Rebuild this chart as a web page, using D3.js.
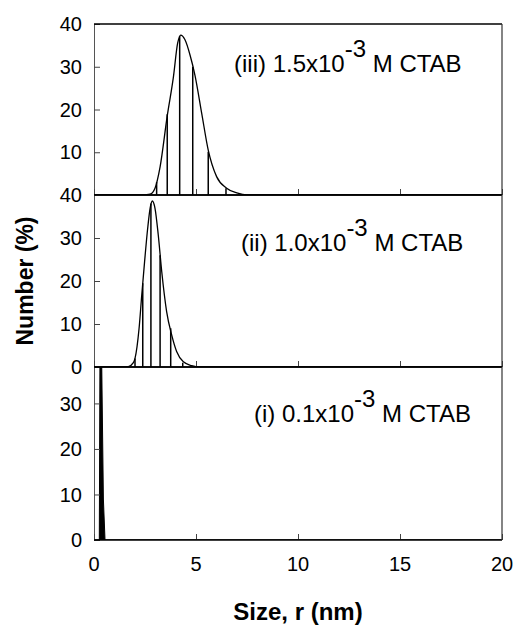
<!DOCTYPE html>
<html>
<head>
<meta charset="utf-8">
<script src="https://cdn.jsdelivr.net/npm/d3@7"></script>
<style>
  body { margin: 0; background: #fff; }
  text { font-family: Arial, "Liberation Sans", sans-serif; fill: #000; }
</style>
</head>
<body>
<div id="chart"></div>
<script>
// data
const xTicks = [0, 5, 10, 15, 20];
const yTicks = [0, 10, 20, 30, 40];

// (iii) 1.5 mM CTAB
const curveIII = [[0, 0], [2.25, 0], [2.75, 0.2], [2.99, 1.6], [3.24, 6.6], [3.59, 18.5], [3.89, 27.5],
    [4.10, 35.5], [4.25, 37.4], [4.46, 36.3], [4.71, 32.7], [4.95, 28.0], [5.28, 19.1], [5.60, 10.5],
    [6.01, 4.3], [6.5, 1.6], [7.0, 0.5], [7.5, 0], [20, 0]];
const barsIII_x = [3.07, 3.59, 4.20, 4.84, 5.60, 6.47];
const barsIII_y = [3.0, 18.9, 37.2, 30.0, 10.1, 1.6];

// (ii) 1.0 mM CTAB
const curveII = [[0, 0], [1.27, 0], [1.68, 0.1], [1.93, 1.0], [2.01, 2.0], [2.21, 9.0], [2.34, 16.7],
    [2.48, 24.5], [2.63, 32.2], [2.75, 36.9], [2.86, 38.6], [2.99, 36.9], [3.15, 30.7], [3.32, 22.2],
    [3.56, 12.9], [3.81, 7.4], [4.05, 3.6], [4.38, 1.2], [4.79, 0.3], [5.2, 0], [20, 0]];
const barsII_x = [2.01, 2.39, 2.79, 3.24, 3.76, 4.35];
const barsII_y = [2.0, 19.5, 38.0, 26.0, 9.0, 1.0];

// (i) 0.1 mM CTAB
const curveI = [[0, 0], [0.26, 0], [0.29, 38], [0.38, 38], [0.46, 9], [0.54, 0], [20, 0]];
const barsI_x = [0.33];
const barsI_y = [38];

const labelsMain = ["(iii) 1.5x10", "(ii) 1.0x10", "(i) 0.1x10"];
const labelSup = "-3";
const labelTail = " M CTAB";

const width = 515, height = 626;
const svg = d3.select("#chart").append("svg")
    .attr("width", width)
    .attr("height", height);

const x = d3.scaleLinear().domain([0, 20]).range([94, 502]);

const panels = [
    {top: 24, bottom: 195, ymax: 40, curve: curveIII, bx: barsIII_x, by: barsIII_y, label: labelsMain[0],
     lx: 234, ly: 72, fill: false, skip: [0]},
    {top: 195, bottom: 367, ymax: 40, curve: curveII, bx: barsII_x, by: barsII_y, label: labelsMain[1],
     lx: 241, ly: 251, fill: false, skip: []},
    {top: 367, bottom: 540, ymax: 38, curve: curveI, bx: barsI_x, by: barsI_y, label: labelsMain[2],
     lx: 254, ly: 422, fill: true, skip: []}
];

panels.forEach((p, i) => {
    const y = d3.scaleLinear().domain([0, p.ymax]).range([p.bottom, p.top]);
    const g = svg.append("g");

    const clipId = "clip" + i;
    svg.append("clipPath").attr("id", clipId)
        .append("rect")
        .attr("x", x(0)).attr("y", p.top)
        .attr("width", x(20) - x(0)).attr("height", p.bottom - p.top);

    const plot = g.append("g").attr("clip-path", `url(#${clipId})`);

    // histogram bars
    plot.selectAll(".bar")
        .data(p.bx.map((d, j) => [d, p.by[j]]))
        .join("line")
        .attr("x1", d => x(d[0])).attr("x2", d => x(d[0]))
        .attr("y1", y(0)).attr("y2", d => y(d[1]))
        .attr("stroke", "#000")
        .attr("stroke-width", 1.5);

    // fitted curve
    if (p.fill) {
        plot.append("path")
            .datum(p.curve)
            .attr("fill", "#000")
            .attr("stroke", "#000")
            .attr("stroke-width", 1)
            .attr("d", d3.area().x(d => x(d[0])).y0(y(0)).y1(d => y(d[1])));
    } else {
        plot.append("path")
            .datum(p.curve)
            .attr("fill", "none")
            .attr("stroke", "#000")
            .attr("stroke-width", 1.3)
            .attr("d", d3.line().curve(d3.curveMonotoneX).x(d => x(d[0])).y(d => y(d[1])));
    }

    // axes, ticks drawn inward
    const yAxis = d3.axisLeft(y).tickValues(yTicks.filter(t => t <= p.ymax))
        .tickSizeInner(-6).tickSizeOuter(0).tickFormat("");
    g.append("g").attr("transform", `translate(${x(0)},0)`).call(yAxis)
        .call(a => a.select(".domain").attr("stroke", "#555"))
        .call(a => a.selectAll(".tick line").attr("stroke", "#444"));

    const xAxis = d3.axisBottom(x).tickValues(xTicks)
        .tickSizeInner(-6).tickSizeOuter(0).tickFormat("");
    g.append("g").attr("transform", `translate(0,${p.bottom})`).call(xAxis)
        .call(a => a.select(".domain").remove())
        .call(a => a.selectAll(".tick line").attr("stroke", "#444"));

    // frame
    g.append("line").attr("x1", x(0)).attr("x2", x(20)).attr("y1", p.top).attr("y2", p.top)
        .attr("stroke", "#000").attr("stroke-width", 1.5);
    g.append("line").attr("x1", x(0)).attr("x2", x(20)).attr("y1", p.bottom).attr("y2", p.bottom)
        .attr("stroke", "#000").attr("stroke-width", 1.5);
    g.append("line").attr("x1", x(20)).attr("x2", x(20)).attr("y1", p.top).attr("y2", p.bottom)
        .attr("stroke", "#333").attr("stroke-width", 1.2);

    // y tick labels
    g.selectAll(".ylab")
        .data(yTicks.filter(t => t <= p.ymax && !p.skip.includes(t)))
        .join("text")
        .attr("x", 82)
        .attr("y", d => y(d))
        .attr("dy", "0.36em")
        .attr("text-anchor", "end")
        .style("font-size", "20px")
        .text(d => d);

    // panel label with superscript
    const t = g.append("text")
        .attr("x", p.lx).attr("y", p.ly)
        .style("font-size", "24px");
    t.append("tspan").text(p.label);
    t.append("tspan").attr("dy", -15).text(labelSup);
    t.append("tspan").attr("dy", 15).text(labelTail);
});

// x tick labels (bottom panel only)
svg.selectAll(".xlab")
    .data(xTicks)
    .join("text")
    .attr("x", d => x(d))
    .attr("y", 571)
    .attr("text-anchor", "middle")
    .style("font-size", "20px")
    .text(d => d);

// axis titles
svg.append("text")
    .attr("x", 298).attr("y", 620)
    .attr("text-anchor", "middle")
    .style("font-size", "24px").style("font-weight", "bold")
    .text("Size, r (nm)");

svg.append("text")
    .attr("transform", "translate(33,281) rotate(-90)")
    .attr("text-anchor", "middle")
    .style("font-size", "23px").style("font-weight", "bold")
    .text("Number (%)");
</script>
</body>
</html>
